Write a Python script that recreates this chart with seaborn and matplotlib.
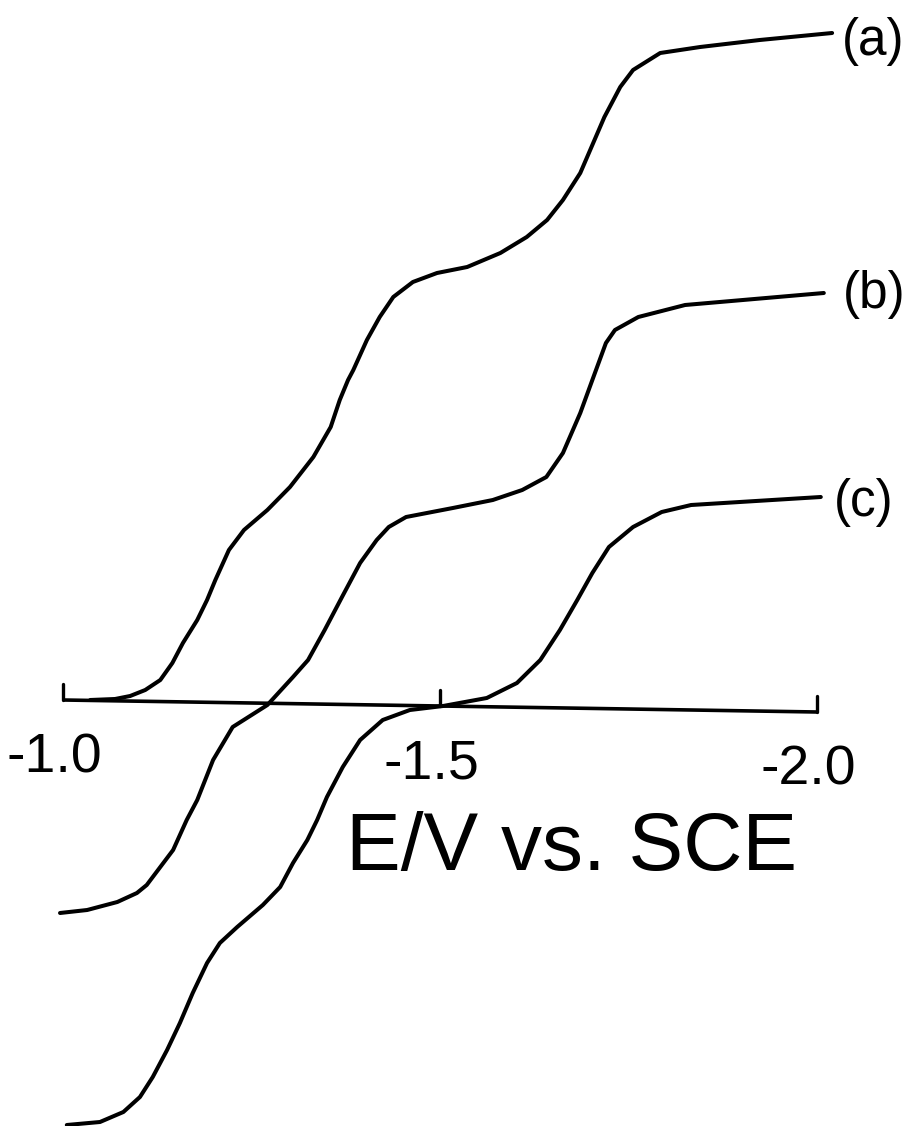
import matplotlib
matplotlib.use("Agg")
import matplotlib.pyplot as plt
import pandas as pd
import seaborn as sns

# polarograms: E in V vs. SCE, current in arbitrary units
E_a = [-1.036, -1.069, -1.089, -1.109, -1.129, -1.145, -1.159, -1.178, -1.191, -1.202,
       -1.220, -1.240, -1.271, -1.301, -1.332, -1.355, -1.367, -1.378, -1.385, -1.403,
       -1.420, -1.438, -1.464, -1.496, -1.536, -1.580, -1.615, -1.642, -1.663, -1.686,
       -1.702, -1.718, -1.739, -1.756, -1.792, -1.845, -1.924, -2.020]
i_a = [0.0, 0.1, 0.4, 1.0, 2.0, 3.7, 5.7, 8.0, 10.0, 12.0,
       15.0, 17.0, 19.0, 21.3, 24.3, 27.3, 30.0, 32.0, 33.0, 36.0,
       38.3, 40.3, 41.8, 42.7, 43.3, 44.7, 46.3, 48.0, 50.0, 52.7,
       55.5, 58.3, 61.3, 63.0, 64.7, 65.3, 66.0, 66.7]

E_b = [-0.996, -1.032, -1.072, -1.098, -1.111, -1.129, -1.146, -1.164, -1.178, -1.199,
       -1.225, -1.271, -1.305, -1.325, -1.347, -1.370, -1.394, -1.416, -1.432, -1.455,
       -1.517, -1.570, -1.609, -1.641, -1.663, -1.686, -1.702, -1.720, -1.732, -1.763,
       -1.825, -2.009]
i_b = [-21.3, -21.0, -20.2, -19.3, -18.5, -16.7, -15.0, -12.0, -10.0, -6.0,
       -2.7, -0.5, 2.3, 4.0, 7.0, 10.3, 13.7, 16.0, 17.3, 18.3,
       19.2, 20.0, 21.0, 22.3, 24.7, 28.7, 32.0, 35.7, 37.0, 38.3,
       39.5, 40.7]

E_c = [-1.005, -1.049, -1.080, -1.102, -1.119, -1.138, -1.155, -1.172, -1.191, -1.208,
       -1.231, -1.265, -1.288, -1.305, -1.324, -1.337, -1.350, -1.371, -1.394, -1.424,
       -1.460, -1.504, -1.562, -1.602, -1.633, -1.659, -1.682, -1.702, -1.724, -1.756,
       -1.794, -1.833, -2.005]
i_c = [-42.5, -42.2, -41.2, -39.7, -37.7, -35.0, -32.3, -29.3, -26.3, -24.3,
       -22.7, -20.5, -18.7, -16.3, -14.0, -12.0, -9.7, -6.7, -4.0, -2.0,
       -1.0, -0.6, 0.2, 1.7, 4.0, 7.0, 10.0, 12.7, 15.3, 17.3,
       18.8, 19.5, 20.3]

curve_names = ["(a)", "(b)", "(c)"]
label_E = [-2.075, -2.076, -2.062]
label_i = [65.8, 40.5, 19.7]

# potential axis (drawn inside the plot, slightly skewed as on the chart recorder paper)
tick_E = [-1.0, -1.5, -2.0]
tick_base = [0.0, -0.6, -1.2]
tick_len = 1.6
tick_labels = ["-1.0", "-1.5", "-2.0"]
xlabel = "E/V vs. SCE"

rows = []
for name, es, cs in zip(curve_names, [E_a, E_b, E_c], [i_a, i_b, i_c]):
    for k, (e, c) in enumerate(zip(es, cs)):
        rows.append({"curve": name, "order": k, "E": e, "i": c})
df = pd.DataFrame(rows)

sns.set_theme(style="white")
plt.rcParams["font.family"] = ["Liberation Sans", "DejaVu Sans"]

fig = plt.figure(figsize=(9.1, 11.26), dpi=100)
ax = fig.add_axes([0, 0, 1, 1])

sns.lineplot(data=df, x="E", y="i", hue="curve", units="curve", estimator=None, sort=False,
             palette=["black"] * 3, linewidth=2.9, legend=False, ax=ax,
             solid_joinstyle="round", solid_capstyle="round")

# axis line with upward ticks
ax.plot(tick_E, tick_base, color="black", lw=2.6, solid_capstyle="butt")
for e, b, lab in zip(tick_E, tick_base, tick_labels):
    ax.plot([e, e], [b, b + tick_len], color="black", lw=2.4)
    ax.annotate(lab, xy=(e, b), xytext=(-6, -52), textcoords="offset points",
                ha="center", va="baseline", fontsize=40, color="black")

ax.text(-1.675, -17.0, xlabel, ha="center", va="baseline", fontsize=59, color="black")

for name, e, c in zip(curve_names, label_E, label_i):
    ax.text(e, c, name, ha="center", va="center", fontsize=37, color="black")

ax.set_xlim(-0.9164, -2.1233)
ax.set_ylim(-42.6, 70.0)
ax.axis("off")

fig.savefig("out.png", dpi=100, facecolor="white")
